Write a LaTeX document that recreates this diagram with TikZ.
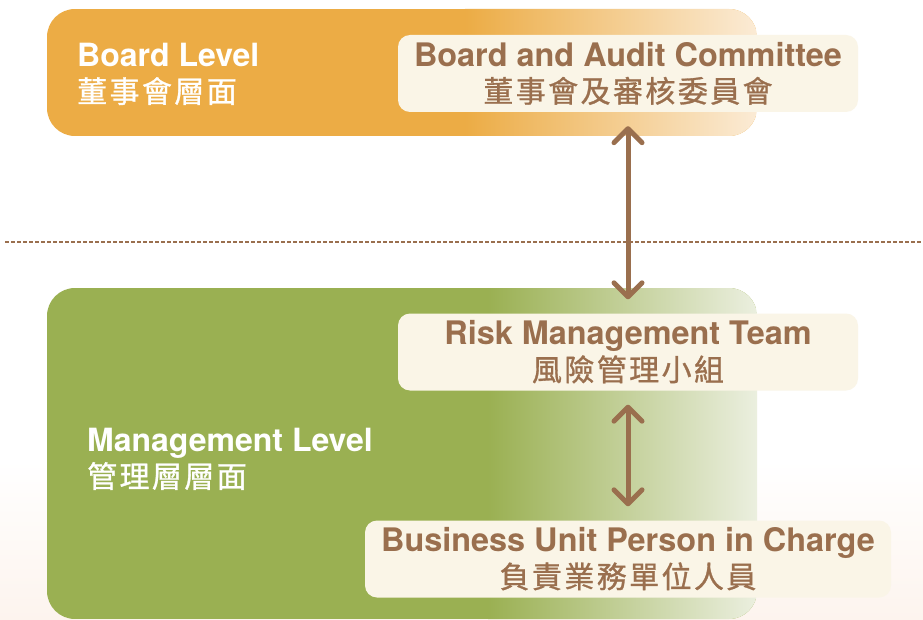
\documentclass[tikz,border=0pt]{standalone}
\usepackage{fontspec}
\setmainfont{TeX Gyre Heros}
\newfontfamily\zh{Noto Sans CJK TC}[LetterSpace=8,FakeBold=1]
\usetikzlibrary{arrows.meta}

\definecolor{boardor}{HTML}{ECAC45}
\definecolor{boardlt}{HTML}{FBEBD5}
\definecolor{mgmtgr}{HTML}{9AB052}
\definecolor{mgmtlt}{HTML}{EBEFDF}
\definecolor{boxfill}{HTML}{FAF5E7}
\definecolor{brn}{HTML}{9A6F4E}
\definecolor{peach}{HTML}{FDF4EE}

\newcommand\zhtxt[1]{{\zh\mdseries\fontsize{30}{36}\selectfont #1}}

\begin{document}
\begin{tikzpicture}[x=1pt,y=-1pt,
   box/.style={fill=boxfill, rounded corners=12pt, minimum width=460pt,
      minimum height=77pt, inner sep=0pt, align=center, text=brn,
      font=\bfseries\fontsize{32.4}{36}\selectfont},
   lvl/.style={anchor=north west, inner sep=0pt, align=left, text=white,
      font=\bfseries\fontsize{32}{36}\selectfont},
   link/.style={brn, line width=5pt,
      {Straight Barb[length=14pt,width=28pt,round]}-{Straight Barb[length=14pt,width=28pt,round]},
      shorten <=14pt, shorten >=14pt}]
   \useasboundingbox (0,0) rectangle (923,620);
   \fill[white] (0,0) rectangle (923,620);
   \shade[top color=white, bottom color=peach] (0,460) rectangle (923,620);
   % board level band
   \begin{scope}
      \clip[rounded corners=28pt] (47,9) rectangle (757,136);
      \fill[boardor] (47,9) rectangle (757,136);
      \shade[left color=boardor, right color=boardlt] (465,9) rectangle (757,136);
   \end{scope}
   % management level band
   \begin{scope}
      \clip[rounded corners=28pt] (47,288) rectangle (757,619);
      \fill[mgmtgr] (47,288) rectangle (757,619);
      \shade[left color=mgmtgr, right color=mgmtlt] (488,288) rectangle (757,619);
   \end{scope}
   \draw[brn, line width=1.2pt, dash pattern=on 4pt off 2pt] (5,242) -- (923,242);

   \node[lvl] (boardlvl) at (77,43) {Board Level\\\zhtxt{董事會層面}};
   \node[lvl] (mgmtlvl) at (87,428) {Management Level\\\zhtxt{管理層層面}};

   \node[box] (bac) at (628,73.5) {Board and Audit Committee\\\zhtxt{董事會及審核委員會}};
   \node[box] (risk) at (628,352) {Risk Management Team\\\zhtxt{風險管理小組}};
   \node[box, minimum width=526pt] (buic) at (628,559) {Business Unit Person in Charge\\\zhtxt{負責業務單位人員}};

   \draw[link] (bac) -- (risk);
   \draw[link] (risk) -- (buic);
\end{tikzpicture}
\end{document}
